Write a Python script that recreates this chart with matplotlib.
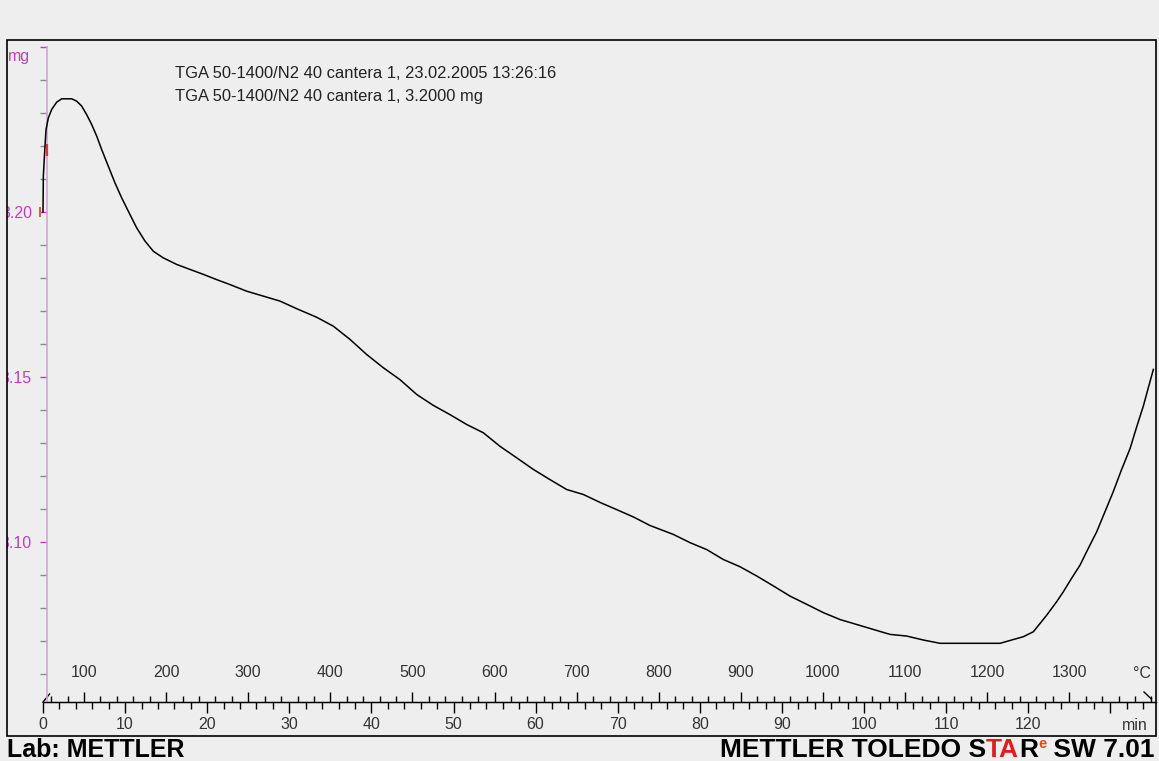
import matplotlib.pyplot as plt
from matplotlib.patches import Rectangle
from matplotlib.ticker import FixedLocator, FixedFormatter, MultipleLocator

plt.rcParams['font.family'] = ['Liberation Sans', 'DejaVu Sans']

# TGA run, cantera 1: mass vs time, heated 50 -> 1400 C at 10 K/min
time_min = [0.0, 0.04, 0.24, 0.37, 0.65, 1.06, 1.67, 2.28, 3.50, 4.10, 4.71,
            5.32, 5.93, 6.54, 7.15, 7.95, 8.77, 9.58, 10.60, 11.41, 12.42,
            13.44, 14.65, 16.29, 17.90, 19.53, 21.16, 22.78, 24.81, 26.84,
            28.87, 30.90, 33.34, 35.36, 37.39, 39.43, 41.45, 43.48, 45.52,
            47.54, 49.57, 51.61, 53.63, 55.66, 57.70, 59.72, 61.75, 63.79,
            65.81, 67.84, 69.88, 71.90, 73.93, 76.77, 78.81, 80.84, 82.86,
            84.90, 86.93, 88.95, 90.99, 93.03, 95.04, 97.08, 99.11, 101.13,
            103.17, 105.20, 107.22, 109.26, 116.56, 119.40, 120.62, 122.24,
            123.46, 124.27, 125.28, 126.31, 127.32, 128.34, 129.35, 130.33,
            131.33, 132.40, 133.21, 134.02, 134.63, 135.24]
mass_mg = [3.2000, 3.2108, 3.2199, 3.2250, 3.2285, 3.2311, 3.2333, 3.2343,
           3.2343, 3.2336, 3.2321, 3.2295, 3.2265, 3.2230, 3.2189, 3.2139,
           3.2088, 3.2043, 3.1992, 3.1952, 3.1912, 3.1881, 3.1861, 3.1841,
           3.1826, 3.1811, 3.1795, 3.1780, 3.1760, 3.1745, 3.1730, 3.1707,
           3.1681, 3.1654, 3.1614, 3.1568, 3.1528, 3.1492, 3.1447, 3.1414,
           3.1386, 3.1356, 3.1331, 3.1290, 3.1255, 3.1220, 3.1189, 3.1159,
           3.1144, 3.1120, 3.1098, 3.1076, 3.1050, 3.1023, 3.0998, 3.0977,
           3.0947, 3.0925, 3.0897, 3.0867, 3.0836, 3.0811, 3.0786, 3.0765,
           3.0750, 3.0735, 3.0720, 3.0715, 3.0703, 3.0693, 3.0693, 3.0713,
           3.0728, 3.0778, 3.0819, 3.0849, 3.0890, 3.0930, 3.0981, 3.1031,
           3.1092, 3.1151, 3.1217, 3.1283, 3.1349, 3.1412, 3.1468, 3.1523]

min_ticks = [0, 10, 20, 30, 40, 50, 60, 70, 80, 90, 100, 110, 120, 130]
min_labels = ['0', '10', '20', '30', '40', '50', '60', '70', '80', '90',
              '100', '110', '120', '']
degc_ticks = [100, 200, 300, 400, 500, 600, 700, 800, 900, 1000, 1100, 1200, 1300]
mg_ticks = [3.10, 3.15, 3.20, 3.25]
mg_labels = ['3.10', '3.15', '3.20', '']

title_lines = ['TGA 50-1400/N2 40 cantera 1, 23.02.2005 13:26:16',
               'TGA 50-1400/N2 40 cantera 1, 3.2000 mg']

BG = '#eeeeee'
MAGENTA = '#c03cc0'
W, H = 1159, 761


def min_to_degc(t):
    return 50 + 10 * t


def degc_to_min(T):
    return (T - 50) / 10


fig = plt.figure(figsize=(W / 100, H / 100), dpi=100, facecolor=BG)
ax = fig.add_axes([43 / W, 59 / H, 1112.5 / W, 655 / H])
ax.set_facecolor('none')
ax.set_xlim(0, 135.5)
ax.set_ylim(3.25 - 655 / 3300, 3.25)

ax.plot(time_min, mass_mg, color='black', lw=1.1, clip_on=False, zorder=3)

for s in ['top', 'right']:
    ax.spines[s].set_visible(False)
ax.spines['left'].set_position(('data', 0.49))
ax.spines['left'].set_color('#d7a2dc')
ax.spines['left'].set_linewidth(1.2)
ax.spines['bottom'].set_color('black')
ax.spines['bottom'].set_linewidth(1.0)

# minutes below the axis line
ax.xaxis.set_major_locator(FixedLocator(min_ticks))
ax.xaxis.set_major_formatter(FixedFormatter(min_labels))
ax.xaxis.set_minor_locator(MultipleLocator(2))
ax.tick_params(axis='x', which='major', direction='out', length=8, width=1,
               color='black', pad=3, labelsize=11.5, labelcolor='#333333')
ax.tick_params(axis='x', which='minor', direction='out', length=5, width=1,
               color='black')

# mass axis
ax.yaxis.set_major_locator(FixedLocator(mg_ticks))
ax.yaxis.set_major_formatter(FixedFormatter(mg_labels))
ax.yaxis.set_minor_locator(MultipleLocator(0.01))
ax.tick_params(axis='y', which='major', direction='out', length=5, width=1,
               color=MAGENTA, pad=5.8, labelsize=11.5, labelcolor=MAGENTA)
ax.tick_params(axis='y', which='minor', direction='out', length=5, width=1,
               color='#8a8a8a')

# temperature above the axis line
sec = ax.secondary_xaxis(0.0, functions=(min_to_degc, degc_to_min))
sec.set_xticks(degc_ticks)
sec.xaxis.set_minor_locator(MultipleLocator(20))
sec.tick_params(axis='x', which='major', direction='in', length=7, width=1,
                color='black', pad=-26.5, labelsize=11.5, labelcolor='#333333')
sec.tick_params(axis='x', which='minor', direction='in', length=4.3, width=1,
                color='black')
sec.spines['bottom'].set_color('black')

# unit labels
ax.text(133.9, 29 / 655, '°C', transform=ax.get_xaxis_transform(),
        ha='center', va='center', fontsize=11.5, color='#333333')
ax.text(133.0, -23 / 655, 'min', transform=ax.get_xaxis_transform(),
        ha='center', va='center', fontsize=11.5, color='#333333')
ax.text(-1.6, 3.25 - 10 / 3300, 'mg', ha='right', va='center',
        fontsize=11.5, color=MAGENTA)

# start markers on the mass axis
ax.plot([0.49], [3.2189], marker='|', ms=9, mew=1.6, color='#d23a3a',
        clip_on=False, zorder=4)
ax.plot([-0.4], [3.2000], marker='|', ms=7, mew=1.4, color='#c86040',
        clip_on=False, zorder=4)

# little end strokes of the time axis
y0 = ax.get_ylim()[0]
ax.plot([0, 0.8], [y0, y0 + 8 / 3300], color='black', lw=1, clip_on=False)
ax.plot([134.1, 135.0], [y0 + 10 / 3300, y0 + 3 / 3300], color='black',
        lw=1, clip_on=False)

for i, line in enumerate(title_lines):
    fig.text(175 / W, 1 - (73 + 23 * i) / H, line, ha='left', va='center',
             fontsize=11.9, color='#222222')

# outer frame; the strip left of it hides the clipped part of the labels
fig.add_artist(Rectangle((0, 0), 6.5 / W, 1, transform=fig.transFigure,
                         facecolor=BG, edgecolor='none', zorder=5))
fig.add_artist(Rectangle((7 / W, (H - 736) / H), 1149 / W, 696 / H,
                         transform=fig.transFigure, fill=False,
                         edgecolor='black', lw=1.2, zorder=6))

fig.text(7 / W, 4 / H, 'Lab: METTLER', ha='left', va='baseline',
         fontsize=18, fontweight='bold', color='black')

# footer logo, laid out right to left
fig.canvas.draw()
renderer = fig.canvas.get_renderer()
x = 1155
pieces = [(' SW 7.01', 'black', 19, 0), ('e', '#e04a1c', 10.5, 9),
          ('R', 'black', 19, 0), ('TA', '#e01e1e', 19, 0),
          ('METTLER TOLEDO S', 'black', 19, 0)]
for text, color, size, dy in pieces:
    t = fig.text(x / W, (4 + dy) / H, text, ha='right', va='baseline',
                 fontsize=size, fontweight='bold', color=color)
    x = t.get_window_extent(renderer).x0

fig.savefig('out.png', dpi=100, facecolor=BG)
